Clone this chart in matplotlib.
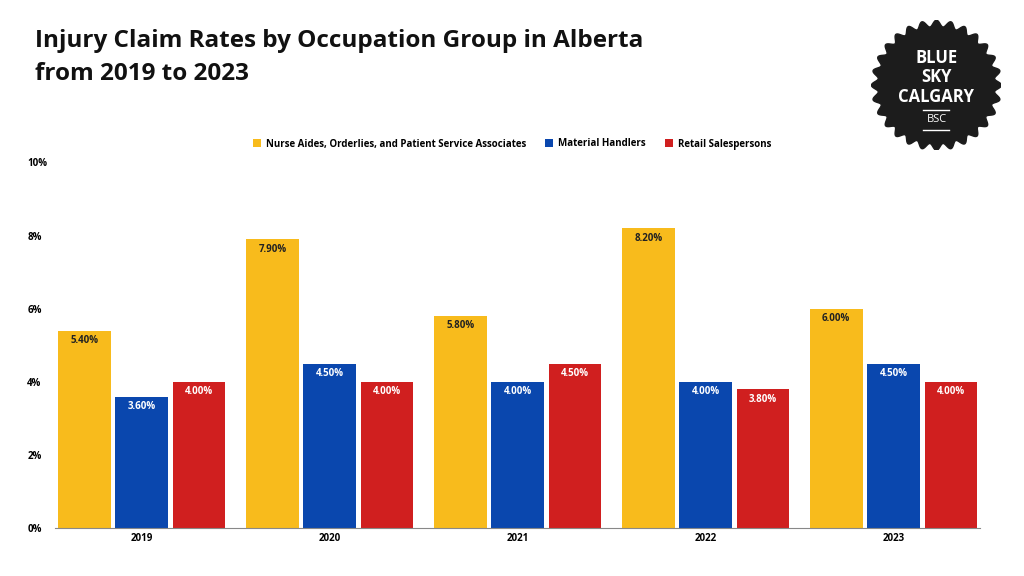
import numpy as np
import matplotlib.pyplot as plt
from matplotlib.patches import Polygon

plt.rcParams["font.family"] = "Open Sans"

years = ["2019", "2020", "2021", "2022", "2023"]
series_names = [
    "Nurse Aides, Orderlies, and Patient Service Associates",
    "Material Handlers",
    "Retail Salespersons",
]
nurse = [5.4, 7.9, 5.8, 8.2, 6.0]
material = [3.6, 4.5, 4.0, 4.0, 4.5]
retail = [4.0, 4.0, 4.5, 3.8, 4.0]
colors = ["#f8bb1c", "#0a47ae", "#d01f1f"]
label_colors = ["#222222", "white", "white"]

fig = plt.figure(figsize=(10.24, 5.76), dpi=100)
ax = fig.add_axes([0.054, 0.083, 0.903, 0.635])

x = np.arange(len(years))
width = 0.28
offsets = [-0.305, 0.0, 0.305]
for vals, off, col, lc, name in zip([nurse, material, retail], offsets, colors, label_colors, series_names):
    bars = ax.bar(x + off, vals, width, color=col, label=name)
    for b, v in zip(bars, vals):
        ax.text(b.get_x() + b.get_width() / 2, v - 0.12, f"{v:.2f}%", ha="center", va="top",
                fontsize=7, fontweight="bold", color=lc)

ax.set_xlim(-0.46, 4.46)
ax.set_ylim(0, 10)
ax.set_xticks(x)
ax.set_xticklabels(years, fontsize=7, fontweight="bold")
ax.set_yticks([0, 2, 4, 6, 8, 10])
ax.set_yticklabels([f"{v}%" for v in range(0, 11, 2)], fontsize=7, fontweight="bold")
for s in ["top", "right", "left"]:
    ax.spines[s].set_visible(False)
ax.spines["bottom"].set_color("#888888")
ax.tick_params(length=0)
for lbl in ax.get_yticklabels():
    lbl.set_horizontalalignment("left")
    lbl.set_x(-0.025)

fig.legend(loc="center", bbox_to_anchor=(0.5, 0.75), ncol=3, frameon=False,
           prop={"size": 7, "weight": "bold"}, handlelength=0.8, handleheight=0.8,
           columnspacing=2.0, handletextpad=0.5)

fig.text(0.034, 0.9, "Injury Claim Rates by Occupation Group in Alberta\nfrom 2019 to 2023",
         fontsize=17.5, fontweight="bold", va="center", linespacing=1.5, color="#111111")

# logo badge
lax = fig.add_axes([0.851, 0.739, 0.127, 0.226])
lax.set_xlim(-1, 1)
lax.set_ylim(-1, 1)
lax.axis("off")
t = np.linspace(0, 2 * np.pi, 481)
r = 0.95 + 0.05 * np.cos(t * 28)
lax.add_patch(Polygon(np.c_[r * np.cos(t), r * np.sin(t)], color="#1c1c1c"))
lax.text(0, 0.42, "BLUE", color="white", ha="center", va="center", fontsize=12, fontweight="bold")
lax.text(0, 0.12, "SKY", color="white", ha="center", va="center", fontsize=12, fontweight="bold")
lax.text(0, -0.18, "CALGARY", color="white", ha="center", va="center", fontsize=12, fontweight="bold")
lax.plot([-0.2, 0.2], [-0.38, -0.38], color="white", lw=1)
lax.text(0, -0.53, "BSC", color="white", ha="center", va="center", fontsize=8)
lax.plot([-0.2, 0.2], [-0.68, -0.68], color="white", lw=1)

fig.savefig("out.png", dpi=100)
